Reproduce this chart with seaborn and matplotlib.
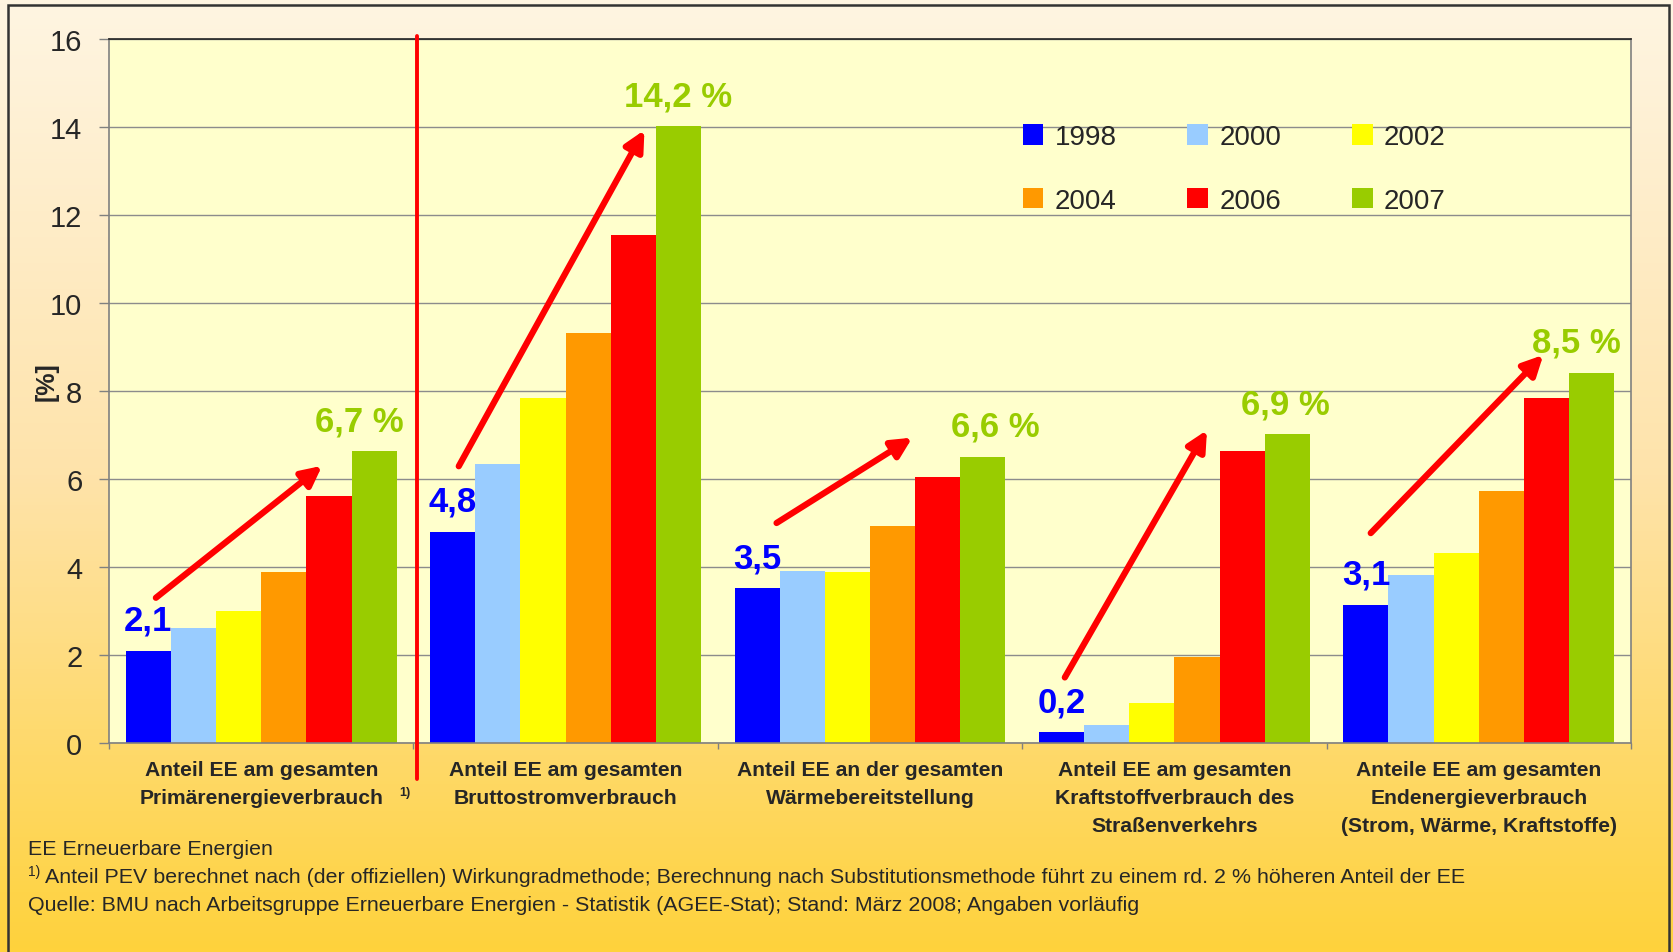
import numpy as np
import pandas as pd
import seaborn as sns
from matplotlib import pyplot as plt
from matplotlib import transforms
from matplotlib.colors import LinearSegmentedColormap
from matplotlib.patches import Rectangle

# data
categories = ['Anteil EE am gesamten\nPrimärenergieverbrauch',
              'Anteil EE am gesamten\nBruttostromverbrauch',
              'Anteil EE an der gesamten\nWärmebereitstellung',
              'Anteil EE am gesamten\nKraftstoffverbrauch des\nStraßenverkehrs',
              'Anteile EE am gesamten\nEndenergieverbrauch\n(Strom, Wärme, Kraftstoffe)']
years = ['1998', '2000', '2002', '2004', '2006', '2007']
v1998 = [2.10, 4.80, 3.52, 0.24, 3.14]
v2000 = [2.62, 6.34, 3.90, 0.41, 3.81]
v2002 = [3.00, 7.84, 3.88, 0.92, 4.32]
v2004 = [3.89, 9.32, 4.94, 1.96, 5.73]
v2006 = [5.61, 11.55, 6.05, 6.63, 7.83]
v2007 = [6.63, 14.02, 6.51, 7.02, 8.42]
start_labels = ['2,1', '4,8', '3,5', '0,2', '3,1']
end_labels = ['6,7 %', '14,2 %', '6,6 %', '6,9 %', '8,5 %']
colors = ['#0000FF', '#99CCFF', '#FFFF00', '#FF9900', '#FF0000', '#99CC00']

# hand drawn arrows (data coords relative to group)
arrow_start = [(-0.346, 3.30), (-0.351, 6.29), (-0.307, 5.00), (-0.360, 1.49), (-0.355, 4.77)]
arrow_end = [(0.200, 6.30), (0.259, 13.93), (0.139, 6.94), (0.107, 7.11), (0.212, 8.82)]
end_dx = [-0.05, 0.0, 0.04, -0.005, -0.05]

rows = []
for y, vals in zip(years, [v1998, v2000, v2002, v2004, v2006, v2007]):
    for c, v in zip(categories, vals):
        rows.append({'category': c, 'year': y, 'value': v})
df = pd.DataFrame(rows)

sns.set_theme(style='white')
plt.rcParams['font.family'] = ['Liberation Sans', 'DejaVu Sans']

W, H = 1673, 953
fig = plt.figure(figsize=(W / 100, H / 100), dpi=100)

# background gradient + frame
bg = fig.add_axes([0, 0, 1, 1], zorder=0)
grad = np.linspace(0, 1, 256)[:, None]
cmap = LinearSegmentedColormap.from_list('bg', ['#FFF5E2', '#FEE3AA', '#FFD23C'])
bg.imshow(grad, aspect='auto', cmap=cmap, extent=[0, 1, 0, 1], origin='upper')
bg.add_patch(Rectangle((8 / W, -0.01), (1669 - 8) / W, 1 - 6 / H + 0.01, fill=False,
                       ec='#333333', lw=1.8, transform=bg.transAxes))
bg.set_xlim(0, 1)
bg.set_ylim(0, 1)
bg.axis('off')

ax = fig.add_axes([109 / W, 1 - 744 / H, (1631 - 109) / W, (744 - 40) / H], zorder=1)
sns.barplot(data=df, x='category', y='value', hue='year', palette=colors, width=0.89,
            saturation=1, edgecolor='none', linewidth=0, ax=ax)
ax.set_facecolor('#FFFFCC')
ax.set_xlim(-0.5, 4.5)
ax.set_ylim(0, 16)
ax.set_yticks(range(0, 17, 2))
ax.yaxis.grid(True, color='#8c8c8c', lw=1)
ax.set_axisbelow(True)
for s in ['left', 'bottom', 'right']:
    ax.spines[s].set_color('#808080')
    ax.spines[s].set_linewidth(1.2)
ax.spines['top'].set_color('#222222')
ax.spines['top'].set_linewidth(1.2)

ax.set_xlabel('')
ax.set_ylabel('[%]', fontsize=18, fontweight='bold')
ax.yaxis.set_label_coords((59 - 109) / 1522, 0.515)
ax.tick_params(axis='y', length=7.2, width=1, color='#808080', labelsize=21, pad=12, left=True)
ax.tick_params(axis='x', which='major', length=0, labelsize=15.2, pad=12)
ax.set_xticks(np.arange(-0.5, 5, 1), minor=True)
ax.tick_params(axis='x', which='minor', length=4, width=1, color='#808080', bottom=True)
for lab in ax.get_xticklabels():
    lab.set_fontweight('bold')
    lab.set_linespacing(1.6)
    lab.set_va('top')

# legend, 2 rows x 3 columns
handles, labels = ax.get_legend_handles_labels()
order = [0, 3, 1, 4, 2, 5]
ax.legend([handles[i] for i in order], [labels[i] for i in order], ncol=3, frameon=False,
          fontsize=20, handlelength=0.75, handleheight=0.75, handletextpad=0.4,
          columnspacing=2.55, labelspacing=1.35, loc='upper left',
          bbox_to_anchor=(0.593, 0.895), borderaxespad=0)

# value labels and arrows
for i in range(5):
    x0 = i - 0.89 / 2 + 0.89 / 12
    x1 = i + 0.89 / 2 - 0.89 / 12
    ax.annotate(start_labels[i], (x0, v1998[i]), xytext=(0, 22), textcoords='offset points',
                ha='center', va='center', fontsize=25, fontweight='bold', color='#0000FF')
    ax.annotate(end_labels[i], (x1 + end_dx[i], v2007[i]), xytext=(0, 22),
                textcoords='offset points', ha='center', va='center', fontsize=25,
                fontweight='bold', color='#99CC00')
    sx, sy = arrow_start[i]
    ex, ey = arrow_end[i]
    ax.annotate('', xy=(i + ex, ey), xytext=(i + sx, sy),
                arrowprops=dict(arrowstyle='-|>', color='#FF0000', lw=4.5,
                                mutation_scale=30, shrinkA=0, shrinkB=0))

# red separator line
trans = transforms.blended_transform_factory(ax.transData, ax.transAxes)
ax.plot([0.512, 0.512], [1.004, -0.051], transform=trans, color='#FF0000', lw=2.8,
        clip_on=False, zorder=5)
fig.text(405 / W, 1 - 793 / H, '1)', fontsize=9, fontweight='bold', ha='center', va='center')

# footnotes
fig.text(28 / W, 1 - 850 / H, 'EE Erneuerbare Energien', fontsize=15.4, va='center')
fig.text(28 / W, 1 - 872 / H, '1)', fontsize=10, va='center')
fig.text(45 / W, 1 - 878 / H, 'Anteil PEV berechnet nach (der offiziellen) Wirkungradmethode; '
         'Berechnung nach Substitutionsmethode führt zu einem rd. 2 % höheren Anteil der EE',
         fontsize=15.4, va='center')
fig.text(28 / W, 1 - 906 / H, 'Quelle: BMU nach Arbeitsgruppe Erneuerbare Energien - Statistik '
         '(AGEE-Stat); Stand: März 2008; Angaben vorläufig', fontsize=15.4, va='center')

fig.savefig('out.png', dpi=100)
